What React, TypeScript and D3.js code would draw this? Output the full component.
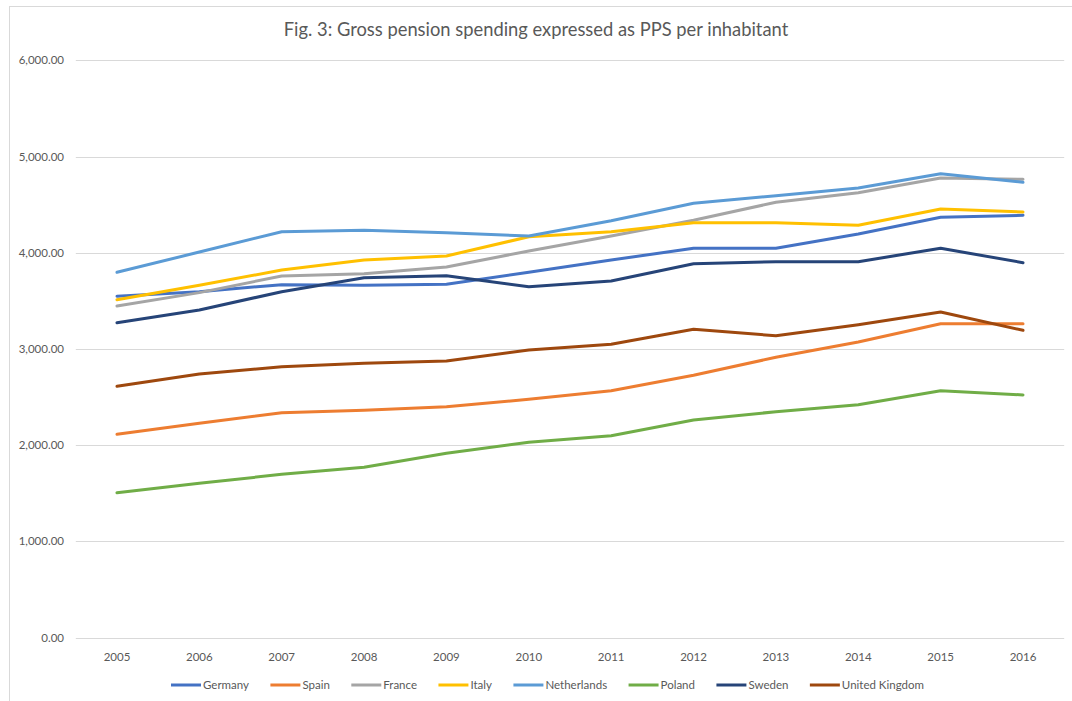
import React, { useEffect, useRef } from "react";
import * as d3 from "d3";

const years = ["2005","2006","2007","2008","2009","2010","2011","2012","2013","2014","2015","2016"];
const yTicks = [0, 1000, 2000, 3000, 4000, 5000, 6000];

const germany = [3548, 3596, 3669, 3662, 3673, 3797, 3925, 4047, 4047, 4195, 4369, 4390];
const spain = [2113, 2228, 2338, 2363, 2400, 2477, 2567, 2727, 2914, 3073, 3263, 3263];
const france = [3447, 3586, 3759, 3783, 3853, 4019, 4175, 4338, 4525, 4625, 4778, 4764];
const italy = [3513, 3662, 3821, 3925, 3967, 4167, 4219, 4313, 4313, 4286, 4455, 4424];
const netherlands = [3797, 4008, 4219, 4234, 4209, 4175, 4334, 4515, 4594, 4674, 4822, 4733];
const poland = [1506, 1604, 1697, 1770, 1916, 2030, 2099, 2262, 2348, 2421, 2567, 2522];
const sweden = [3273, 3405, 3596, 3741, 3762, 3648, 3707, 3887, 3908, 3908, 4047, 3897];
const uk = [2612, 2740, 2816, 2851, 2875, 2990, 3049, 3205, 3138, 3253, 3385, 3194];

const seriesNames = ["Germany","Spain","France","Italy","Netherlands","Poland","Sweden","United Kingdom"];
const seriesValues = [germany, spain, france, italy, netherlands, poland, sweden, uk];
const seriesColors = ["#4472C4","#ED7D31","#A5A5A5","#FFC000","#5B9BD5","#70AD47","#264478","#9E480E"];

const TITLE = "Fig. 3: Gross pension spending expressed as PPS per inhabitant";
const FONT = "Lato, 'Open Sans', sans-serif";

export default function App() {
  const ref = useRef<SVGSVGElement>(null);
  useEffect(() => {
    const svg = d3.select(ref.current);
    svg.selectAll("*").remove();
    const W = 1072, H = 701;
    svg.append("rect").attr("x", 0).attr("y", 0).attr("width", W).attr("height", H).attr("fill", "#fff");
    // chart border
    svg.append("rect").attr("x", 9.5).attr("y", 6.5).attr("width", W + 20).attr("height", H + 20)
      .attr("fill", "none").attr("stroke", "#D9D9D9").attr("stroke-width", 1);

    const left = 75.8, right = 1064.2, top = 60.4, bottom = 637.6;
    const x = d3.scaleBand<string>().domain(years).range([left, right]);
    const y = d3.scaleLinear().domain([0, 6000]).range([bottom, top]);
    const cx = (yr: string) => (x(yr) as number) + x.bandwidth() / 2;

    // gridlines
    svg.append("g").selectAll("line").data(yTicks).join("line")
      .attr("x1", left).attr("x2", right)
      .attr("y1", d => Math.round(y(d)) + 0.5).attr("y2", d => Math.round(y(d)) + 0.5)
      .attr("stroke", "#D9D9D9").attr("stroke-width", 1);

    const fmt = d3.format(",.2f");
    svg.append("g").selectAll("text").data(yTicks).join("text")
      .attr("x", 64).attr("y", d => y(d)).attr("dy", "0.35em")
      .attr("text-anchor", "end").attr("font-family", FONT).attr("font-size", 11.5)
      .attr("fill", "#595959").text(d => fmt(d));

    svg.append("g").selectAll("text").data(years).join("text")
      .attr("x", d => cx(d)).attr("y", 657).attr("dy", "0.35em")
      .attr("text-anchor", "middle").attr("font-family", FONT).attr("font-size", 11.5)
      .attr("fill", "#595959").text(d => d);

    const line = d3.line<number>().x((_, i) => cx(years[i])).y(d => y(d));
    seriesValues.forEach((vals, i) => {
      svg.append("path").attr("d", line(vals) as string).attr("fill", "none")
        .attr("stroke", seriesColors[i]).attr("stroke-width", 3)
        .attr("stroke-linejoin", "round").attr("stroke-linecap", "round");
    });

    // title
    const t = svg.append("text").attr("x", 536).attr("y", 30).attr("dy", "0.35em")
      .attr("text-anchor", "middle").attr("font-family", FONT).attr("font-size", 19)
      .attr("fill", "#595959").text(TITLE);
    const tw = (t.node() as SVGTextElement).getComputedTextLength();
    if (tw > 0) t.attr("font-size", 19 * 505 / tw);

    // legend
    const lg = svg.append("g");
    const items = seriesNames.map((name, i) => {
      const g = lg.append("g");
      g.append("line").attr("x1", 0).attr("x2", 30).attr("y1", 0).attr("y2", 0)
        .attr("stroke", seriesColors[i]).attr("stroke-width", 3);
      const tx = g.append("text").attr("x", 32).attr("y", 0).attr("dy", "0.35em")
        .attr("font-family", FONT).attr("font-size", 11.5).attr("fill", "#595959").text(name);
      const w = 32 + (tx.node() as SVGTextElement).getComputedTextLength();
      return { g, w };
    });
    const gap = 27;
    const total = items.reduce((s, it) => s + it.w, 0) + gap * (items.length - 1);
    let pos = 171;
    const startTarget = 171;
    const endTarget = 924;
    const gap2 = (endTarget - startTarget - items.reduce((s, it) => s + it.w, 0)) / (items.length - 1);
    const useGap = isFinite(gap2) && gap2 > 5 ? gap2 : gap;
    void total;
    items.forEach(it => {
      it.g.attr("transform", `translate(${pos},685)`);
      pos += it.w + useGap;
    });
  }, []);
  return (
    <svg ref={ref} width={1072} height={701}
      style={{ position: "absolute", left: 0, top: 0, display: "block" }} />
  );
}
